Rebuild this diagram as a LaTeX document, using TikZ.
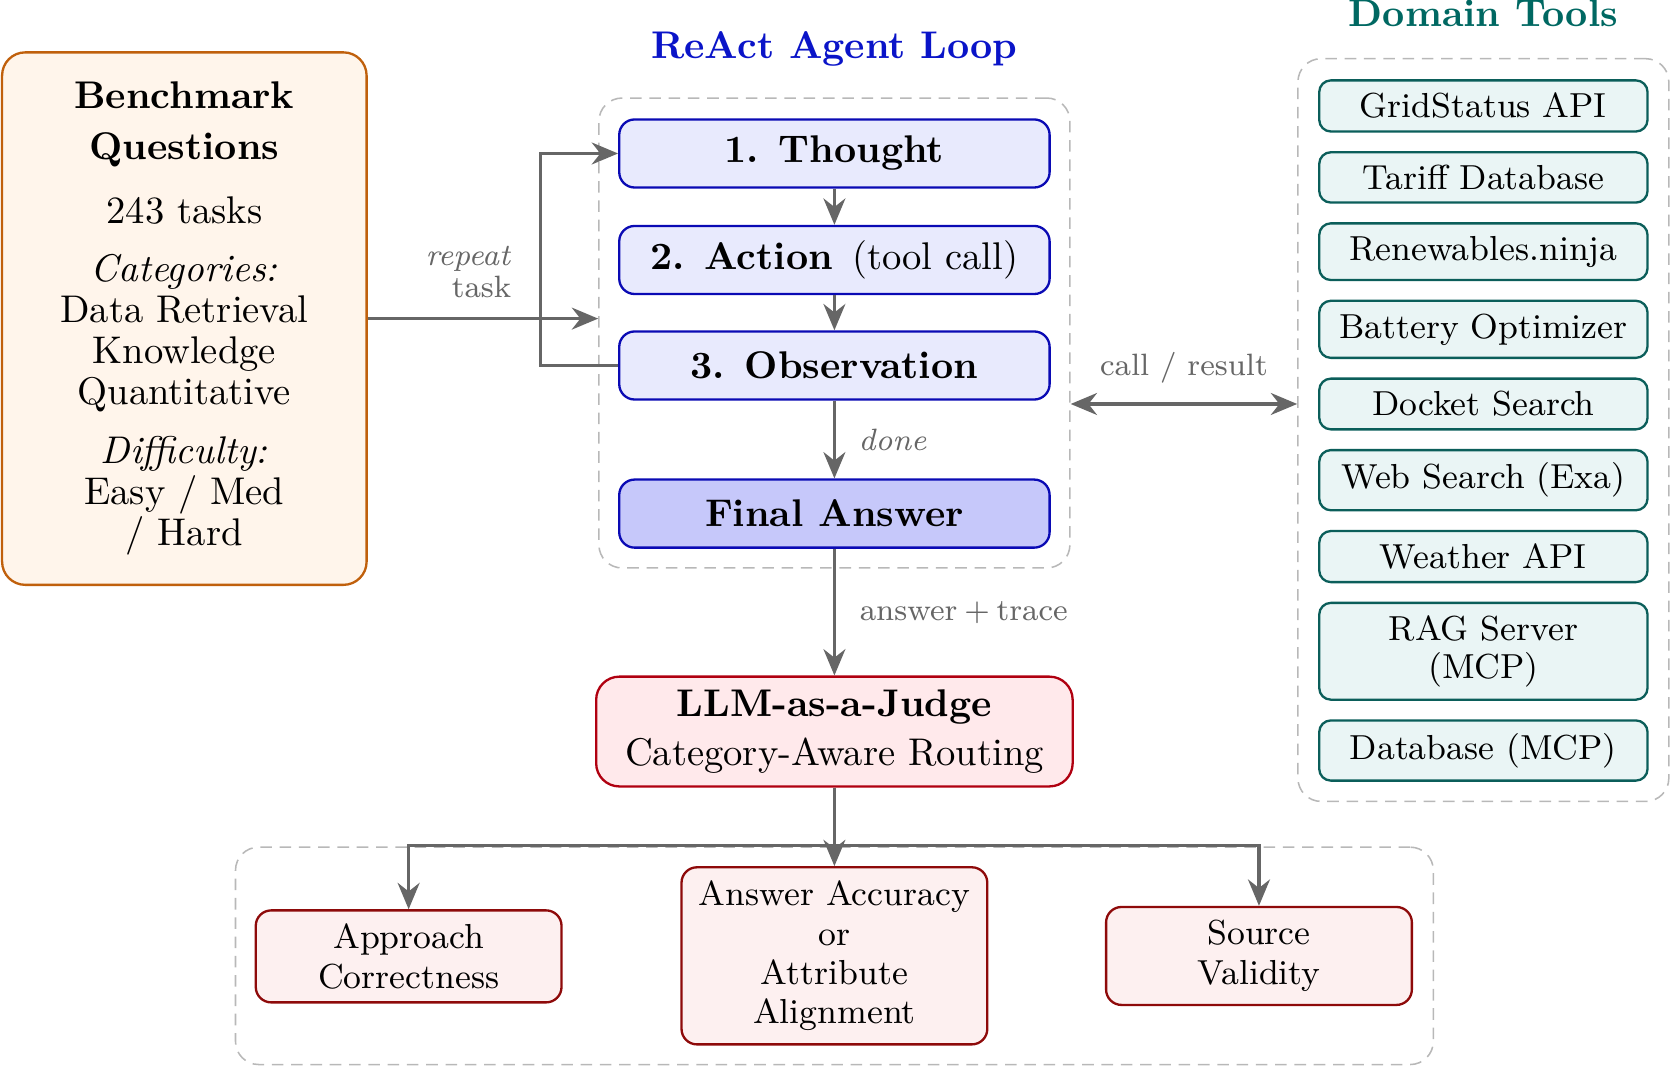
\documentclass[tikz,border=0pt]{standalone}
\usepackage{amsmath}
\usepackage{tikz}
\usetikzlibrary{arrows.meta, positioning, calc}

\definecolor{benchorange}{HTML}{C0600C}
\definecolor{benchlight}{HTML}{FFF5EB}
\definecolor{loopblue}{HTML}{0A0AB4}
\definecolor{looplight}{HTML}{E8EAFD}
\definecolor{finalblue}{HTML}{C6C8FA}
\definecolor{titleblue}{HTML}{0A14C8}
\definecolor{toolteal}{HTML}{0B5E5A}
\definecolor{toollight}{HTML}{EAF5F5}
\definecolor{tooltitle}{HTML}{006862}
\definecolor{judgered}{HTML}{B00010}
\definecolor{judgelight}{HTML}{FFE9EB}
\definecolor{critred}{HTML}{8E0A0A}
\definecolor{critlight}{HTML}{FDF0F0}
\definecolor{framegray}{HTML}{B8B8B8}
\definecolor{arrowgray}{HTML}{666666}

\begin{document}
\begin{tikzpicture}[
    stepbox/.style={draw=loopblue, fill=looplight, semithick, rounded corners=4pt, minimum width=3.92cm, minimum height=0.62cm, font=\bfseries},
    toolbox/.style={draw=toolteal, fill=toollight, semithick, rounded corners=3pt, minimum width=2.99cm, inner ysep=3.3pt, align=center, font=\fontsize{9}{9.8}\selectfont},
    critbox/.style={draw=critred, fill=critlight, semithick, rounded corners=4pt, minimum width=2.785cm, inner ysep=3.5pt, align=center, font=\fontsize{9}{10.2}\selectfont},
    groupframe/.style={draw=framegray, dash pattern=on 3pt off 2pt, rounded corners=6pt},
    arrow/.style={-{Stealth[length=2.4mm, width=2mm]}, thick, arrowgray},
    biarrow/.style={{Stealth[length=2.4mm, width=2mm]}-{Stealth[length=2.4mm, width=2mm]}, thick, arrowgray},
    lbl/.style={font=\footnotesize, text=arrowgray},
]
    \useasboundingbox (0, 0) rectangle (15.22, -9.718);

    % Dashed groups
    \node[groupframe, minimum width=4.29cm, minimum height=4.28cm] (loopframe) at (7.6, -3.033) {};
    \node[groupframe, minimum width=3.378cm, minimum height=6.765cm] (toolframe) at (13.511, -3.917) {};
    \node[groupframe, minimum width=10.91cm, minimum height=1.98cm] (evalframe) at (7.6, -8.706) {};

    \node[font=\bfseries, text=titleblue] (looptitle) at (7.6, -0.447) {ReAct Agent Loop};
    \node[font=\bfseries, text=tooltitle] (tooltitle) at (13.511, -0.117) {Domain Tools};

    % Input questions
    \node[draw=benchorange, fill=benchlight, semithick, rounded corners=6pt, minimum width=3.32cm, minimum height=4.85cm, align=center, font=\fontsize{10}{10.7}\selectfont] (bench) at (1.679, -2.902)
        {\textbf{Benchmark}\\[2.6pt]\textbf{Questions}\\[5.8pt]243 tasks\\[4.2pt]\textit{Categories:}\\Data Retrieval\\Knowledge\\Quantitative\\[4.4pt]\textit{Difficulty:}\\Easy / Med\\/ Hard};

    % Agent loop
    \node[stepbox] (thought) at (7.6, -1.398) {1. Thought};
    \node[stepbox] (action) at (7.6, -2.368) {2. Action\enspace\textnormal{(tool call)}};
    \node[stepbox] (obs) at (7.6, -3.329) {3. Observation};
    \node[stepbox, fill=finalblue] (final) at (7.6, -4.678) {Final Answer};

    \draw[arrow] (thought) -- (action);
    \draw[arrow] (action) -- (obs);
    \draw[arrow] (obs) -- node[lbl, right=0.09cm, font=\footnotesize\itshape] {done} (final);
    \draw[arrow] (bench.east) -- (bench.east -| loopframe.west);
    \draw[arrow] (obs.west) -- ++(-0.71, 0) |- (thought.west);
    \node[lbl, align=right, anchor=east, font=\fontsize{8}{8.3}\selectfont] (repeatlbl) at (4.78, -2.475) {\textit{repeat}\\task};

    % Tools
    \node[toolbox] (grid) at (13.511, -0.965) {GridStatus API};
    \node[toolbox, below=0.168cm of grid] (tariff) {Tariff Database};
    \node[toolbox, below=0.168cm of tariff] (renew) {Renewables.ninja};
    \node[toolbox, below=0.168cm of renew] (battery) {Battery Optimizer};
    \node[toolbox, below=0.168cm of battery] (docket) {Docket Search};
    \node[toolbox, below=0.168cm of docket] (web) {Web Search (Exa)};
    \node[toolbox, below=0.168cm of web] (weather) {Weather API};
    \node[toolbox, below=0.168cm of weather] (rag) {RAG Server\\(MCP)};
    \node[toolbox, below=0.168cm of rag] (db) {Database (MCP)};

    \draw[biarrow] (loopframe.east |- docket) -- node[lbl, above=0.06cm] {call / result} (toolframe.west |- docket);

    % Judge
    \node[draw=judgered, fill=judgelight, semithick, rounded corners=6pt, minimum width=4.34cm, minimum height=1.0cm, align=center] (judge) at (7.6, -6.663)
        {\textbf{LLM-as-a-Judge}\\[0.7pt]Category-Aware Routing};
    \draw[arrow] (final) -- node[lbl, right=0.1cm] {answer\:+\:trace} (judge);

    % Criteria
    \node[critbox] (appr) at (3.722, -8.711) {Approach\\Correctness};
    \node[critbox] (acc) at (7.6, -8.706) {Answer Accuracy\\or\\Attribute\\Alignment};
    \node[critbox] (src) at (11.467, -8.707) {Source\\Validity};

    \draw[arrow] (judge.south) -- ++(0, -0.524) -| (appr.north);
    \draw[arrow] (judge.south) -- ++(0, -0.524) -| (src.north);
    \draw[arrow] (judge) -- (acc);

\end{tikzpicture}
\end{document}
